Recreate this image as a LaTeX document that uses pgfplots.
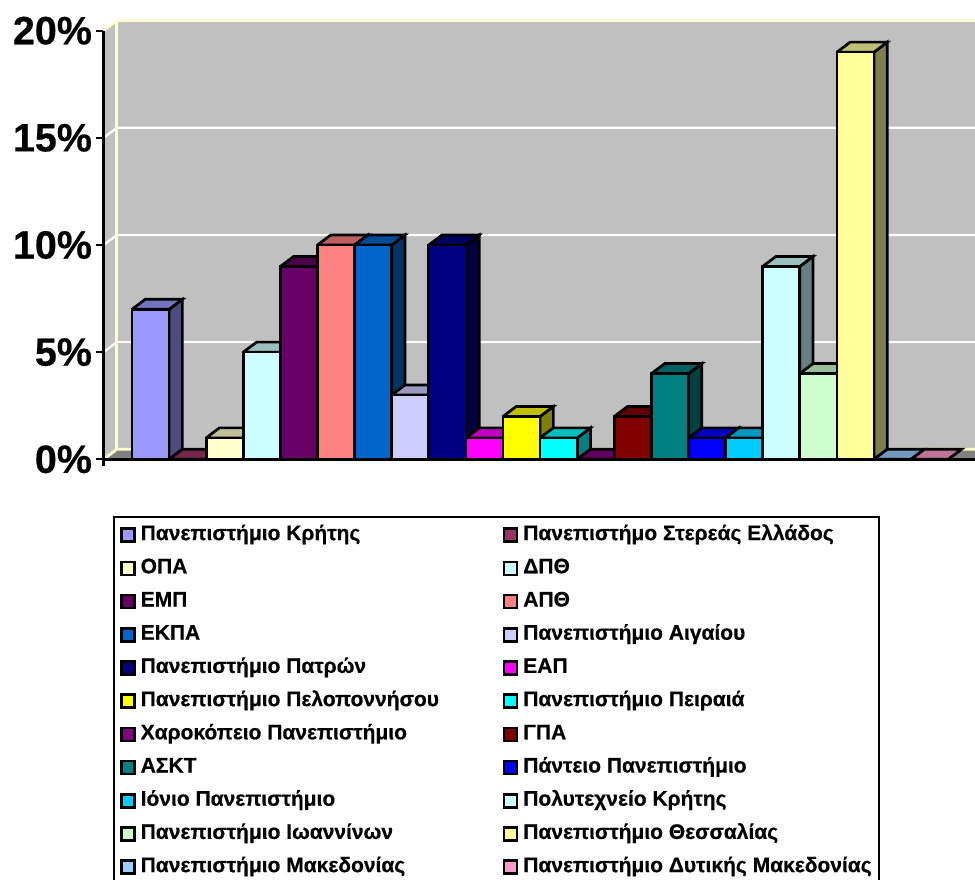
\documentclass[border=0pt]{standalone}
\usepackage{fontspec}
\setmainfont[BoldFeatures={FakeBold=0.5}]{Liberation Sans}
\usepackage{pgfplots}
\pgfplotsset{compat=1.18}
\definecolor{c0}{HTML}{9999FF}\definecolor{c1}{HTML}{993366}\definecolor{c2}{HTML}{FFFFCC}
\definecolor{c3}{HTML}{CCFFFF}\definecolor{c4}{HTML}{660066}\definecolor{c5}{HTML}{FF8080}
\definecolor{c6}{HTML}{0066CC}\definecolor{c7}{HTML}{CCCCFF}\definecolor{c8}{HTML}{000080}
\definecolor{c9}{HTML}{FF00FF}\definecolor{c10}{HTML}{FFFF00}\definecolor{c11}{HTML}{00FFFF}
\definecolor{c12}{HTML}{800080}\definecolor{c13}{HTML}{800000}\definecolor{c14}{HTML}{008080}
\definecolor{c15}{HTML}{0000FF}\definecolor{c16}{HTML}{00CCFF}\definecolor{c17}{HTML}{CCFFFF}
\definecolor{c18}{HTML}{CCFFCC}\definecolor{c19}{HTML}{FFFF99}\definecolor{c20}{HTML}{99CCFF}
\definecolor{c21}{HTML}{FF99CC}
\definecolor{wall}{HTML}{C0C0C0}\definecolor{floorc}{HTML}{808080}\definecolor{edge}{HTML}{FFFFCC}
\def\ddx{0.3585}\def\ddy{0.467}
\newcommand\unibar[4]{%
  \pgfmathsetmacro\xa{#1}\pgfmathsetmacro\xb{#1+1}\pgfmathsetmacro\xc{#1+1+\ddx}%
  \pgfmathsetmacro\xd{#1+\ddx}\pgfmathsetmacro\yt{#2+\ddy}\pgfmathsetmacro\xm{#1+0.5}%
  \edef\temp{%
    \noexpand\addplot[forget plot,fill=#3!50!black,draw=black,line width=2.7pt] coordinates {(\xb,0) (\xc,\ddy) (\xc,\yt) (\xb,#2) (\xb,0)};
    \noexpand\addplot[forget plot,fill=#3!75!black,draw=black,line width=2.7pt] coordinates {(\xa,#2) (\xd,\yt) (\xc,\yt) (\xb,#2) (\xa,#2)};
    \noexpand\addplot[ybar,bar width=1,bar shift=0pt,fill=#3,draw=black,line width=2.7pt,
      legend image code/.code={\noexpand\draw[fill=#3,draw=black,line width=2.6pt] (0pt,-6.5pt) rectangle (13pt,6.5pt);}] coordinates {(\xm,#2)};
  }\temp
  \ifodd#1\relax
    \addlegendentry{\makebox[350pt][l]{#4}}%
  \else
    \addlegendentry{\makebox[357pt][l]{#4}}%
  \fi
}
\begin{document}
\begin{tikzpicture}[x=1pt,y=1pt]
\clip (0,0) rectangle (975,880);
\begin{axis}[
  at={(103.5pt,420.7pt)},anchor=south west,
  scale only axis,width=871.5pt,height=428.6pt,
  xmin=-0.768,xmax=22.723,ymin=0,ymax=20,
  clip=false,axis on top,
  axis lines=left,
  axis line style={-,line width=2.6pt,black},
  xtick={-0.768},xticklabels={},
  ytick={0,5,10,15,20},
  tick align=outside,major tick length=7pt,
  tick style={line width=2.2pt,black},
  /pgf/number format/assume math mode=true,
  yticklabel={\pgfmathprintnumber{\tick}\%},
  yticklabel style={font=\fontsize{39.5}{40}\selectfont\bfseries,xshift=-1pt},
  legend columns=2,
  legend cell align=left,
  legend style={
    at={(0.0109,-0.1323)},anchor=north west,
    draw=black,line width=2.2pt,fill=white,
    font=\fontsize{21}{21}\selectfont\bfseries,
    inner xsep=6pt,inner ysep=9pt,
    nodes={inner sep=0pt,text height=14pt,text depth=4pt,anchor=west},
    /tikz/row sep=15.2pt,
    /tikz/column sep=5pt,
  },
]
% walls and floor
\addplot[forget plot,fill=wall,draw=none] coordinates {(-0.768,0) (-0.4095,0.467) (-0.4095,20.467) (-0.768,20) (-0.768,0)};
\addplot[forget plot,fill=wall,draw=none] coordinates {(-0.4095,0.467) (23.5,0.467) (23.5,20.467) (-0.4095,20.467) (-0.4095,0.467)};
\addplot[forget plot,fill=floorc,draw=none] coordinates {(-0.768,0) (-0.4095,0.467) (23.5,0.467) (23.2,0) (-0.768,0)};
% gridlines on the walls
\addplot[forget plot,white,line width=2.2pt] coordinates {(-0.768,5) (-0.4095,5.467) (23.5,5.467)};
\addplot[forget plot,white,line width=2.2pt] coordinates {(-0.768,10) (-0.4095,10.467) (23.5,10.467)};
\addplot[forget plot,white,line width=2.2pt] coordinates {(-0.768,15) (-0.4095,15.467) (23.5,15.467)};
\addplot[forget plot,edge,line width=2.8pt] coordinates {(-0.768,20) (-0.4095,20.467) (23.5,20.467)};
\addplot[forget plot,edge,line width=2.8pt] coordinates {(-0.768,0) (-0.4095,0.467) (23.5,0.467)};
\addplot[forget plot,edge,line width=2.8pt] coordinates {(-0.4095,0.467) (-0.4095,20.467)};
% bars
\unibar{0}{7}{c0}{Πανεπιστήμιο Κρήτης}
\unibar{1}{0}{c1}{Πανεπιστήμο Στερεάς Ελλάδος}
\unibar{2}{1}{c2}{ΟΠΑ}
\unibar{3}{5}{c3}{ΔΠΘ}
\unibar{4}{9}{c4}{ΕΜΠ}
\unibar{5}{10}{c5}{ΑΠΘ}
\unibar{6}{10}{c6}{ΕΚΠΑ}
\unibar{7}{3}{c7}{Πανεπιστήμιο Αιγαίου}
\unibar{8}{10}{c8}{Πανεπιστήμιο Πατρών}
\unibar{9}{1}{c9}{ΕΑΠ}
\unibar{10}{2}{c10}{Πανεπιστήμιο Πελοποννήσου}
\unibar{11}{1}{c11}{Πανεπιστήμιο Πειραιά}
\unibar{12}{0}{c12}{Χαροκόπειο Πανεπιστήμιο}
\unibar{13}{2}{c13}{ΓΠΑ}
\unibar{14}{4}{c14}{ΑΣΚΤ}
\unibar{15}{1}{c15}{Πάντειο Πανεπιστήμιο}
\unibar{16}{1}{c16}{Ιόνιο Πανεπιστήμιο}
\unibar{17}{9}{c17}{Πολυτεχνείο Κρήτης}
\unibar{18}{4}{c18}{Πανεπιστήμιο Ιωαννίνων}
\unibar{19}{19}{c19}{Πανεπιστήμιο Θεσσαλίας}
\unibar{20}{0}{c20}{Πανεπιστήμιο Μακεδονίας}
\unibar{21}{0}{c21}{Πανεπιστήμιο Δυτικής Μακεδονίας}
\end{axis}
\end{tikzpicture}
\end{document}
